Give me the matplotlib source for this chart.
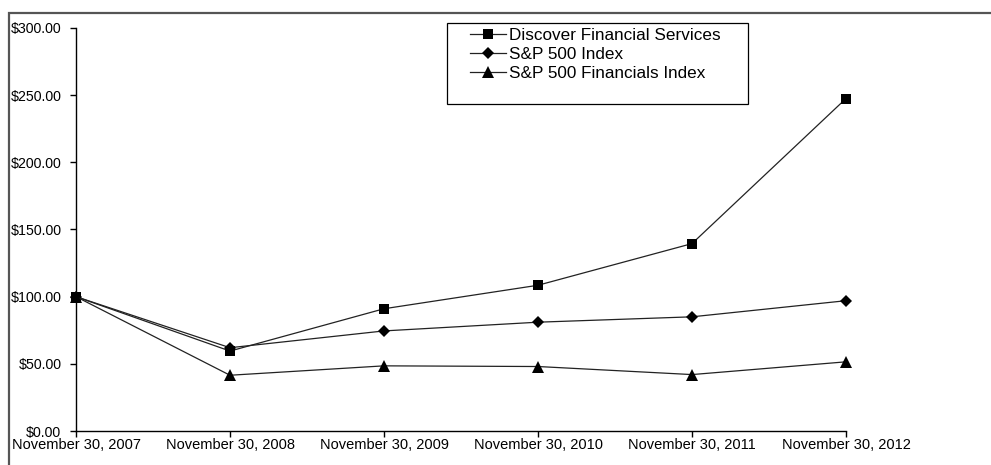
import matplotlib.pyplot as plt
from matplotlib.patches import Rectangle

# 数据
dates = ["November 30, 2007", "November 30, 2008", "November 30, 2009",
         "November 30, 2010", "November 30, 2011", "November 30, 2012"]
discover = [100, 59.5, 91, 108.5, 139.5, 247.5]
sp500 = [100, 62, 74.5, 81, 85, 97]
sp500_fin = [100, 41.5, 48.5, 48, 42, 51.5]
yticks = [0, 50, 100, 150, 200, 250, 300]

plt.rcParams['font.family'] = ['Liberation Sans', 'DejaVu Sans']

W, H = 991, 465
fig = plt.figure(figsize=(W / 100, H / 100), dpi=100)
ax = fig.add_axes([76 / W, 1 - 431 / H, (846 - 76) / W, (431 - 28) / H])

x = list(range(len(dates)))
line_kw = dict(color='#222222', linewidth=0.9, markeredgewidth=0)
ax.plot(x, discover, marker='s', markersize=7.2, markerfacecolor='black',
        label='Discover Financial Services', **line_kw)
ax.plot(x, sp500, marker='D', markersize=6.5, markerfacecolor='black',
        label='S&P 500 Index', **line_kw)
ax.plot(x, sp500_fin, marker='^', markersize=8.5, markerfacecolor='black',
        label='S&P 500 Financials Index', **line_kw)

ax.set_xlim(0, len(dates) - 1)
ax.set_ylim(0, 300)
ax.set_xticks(x)
ax.set_xticklabels(dates, fontsize=10.5)
ax.set_yticks(yticks)
ax.set_yticklabels([f"${v:.2f}" for v in yticks], fontsize=10.2)
ax.tick_params(axis='y', direction='out', length=4, width=1, pad=6.5)
ax.tick_params(axis='x', direction='out', length=4, width=1, pad=1)
for s in ['top', 'right']:
    ax.spines[s].set_visible(False)
for s in ['left', 'bottom']:
    ax.spines[s].set_linewidth(1.0)
for ln in ax.lines:
    ln.set_clip_on(False)

# 图例
leg = fig.legend(loc='upper left', bbox_to_anchor=(470 / W, 1 - 28 / H),
                 frameon=False, fontsize=12.3, handlelength=2.1,
                 handletextpad=0.2, labelspacing=0.22, borderpad=0,
                 borderaxespad=0)
fig.patches.append(Rectangle((447 / W, 1 - 104 / H), 301 / W, 81 / H,
                             transform=fig.transFigure, fill=False,
                             edgecolor='black', linewidth=0.9))

# 外框
fig.patches.append(Rectangle((9 / W, -0.1), 1.2, 1 - 13 / H + 0.1,
                             transform=fig.transFigure, fill=False,
                             edgecolor='#555555', linewidth=1.6))

fig.savefig('out.png', dpi=100)
